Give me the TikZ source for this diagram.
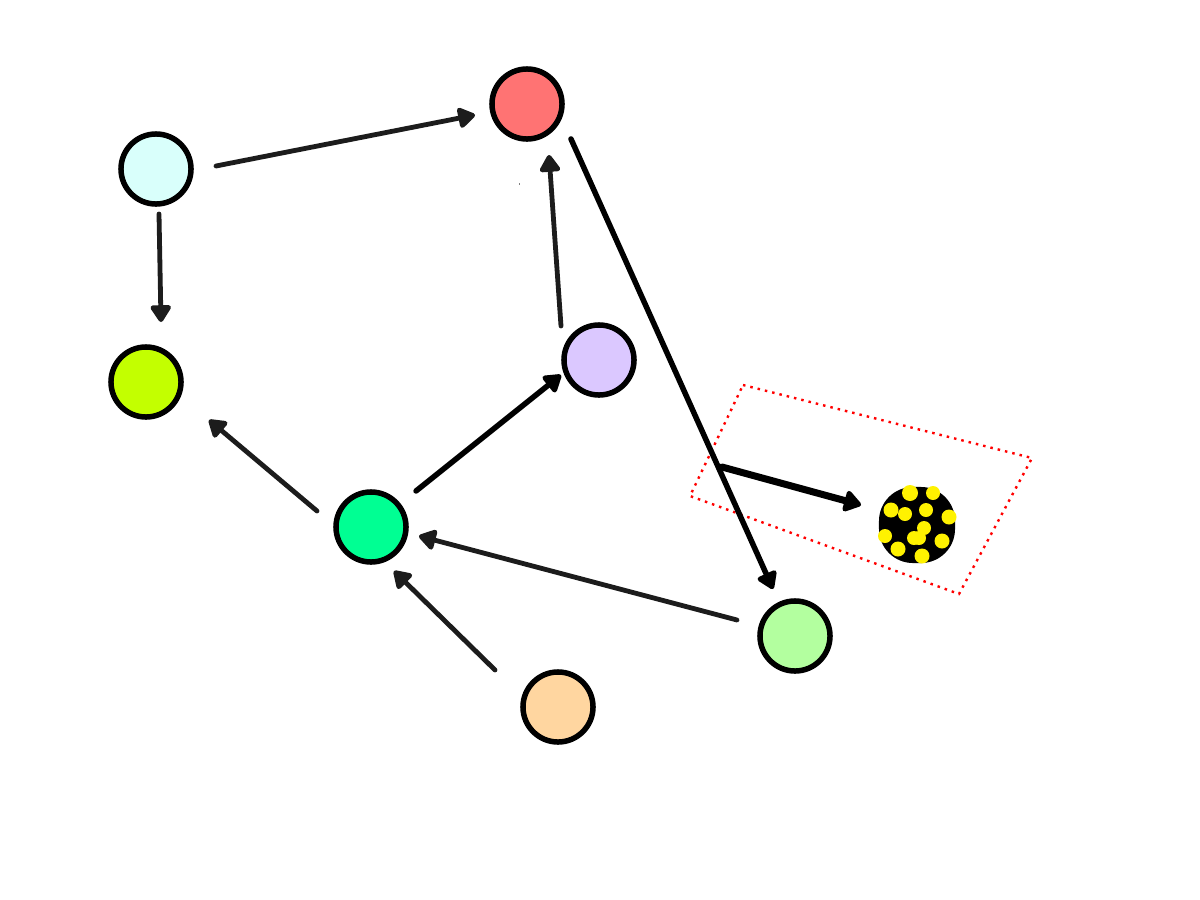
\documentclass[tikz,border=0pt]{standalone}
\usetikzlibrary{arrows.meta}
\definecolor{cCyan}{HTML}{D9FFFB}
\definecolor{cRed}{HTML}{FF7373}
\definecolor{cLime}{HTML}{C3FF00}
\definecolor{cPurple}{HTML}{DBC8FF}
\definecolor{cGreen}{HTML}{00FF93}
\definecolor{cLight}{HTML}{B3FF9F}
\definecolor{cOrange}{HTML}{FFD6A0}
\definecolor{cInk}{HTML}{1C1C1C}
\tikzset{
  x=0.01cm,y=-0.01cm,
  ball/.style={circle,draw=black,line width=0.055cm,minimum size=0.70cm,inner sep=0pt,outer sep=0pt},
  conn/.style={draw=cInk,line width=0.048cm,line cap=round,
    -{Triangle[round,length=0.19cm,width=0.23cm]}},
  connbold/.style={conn,draw=black,line width=0.055cm},
  connheavy/.style={conn,draw=black,line width=0.07cm,
    -{Triangle[round,length=0.19cm,width=0.24cm]}},
  frame/.style={draw=red,line width=0.024cm,dash pattern=on 0.025cm off 0.05cm},
  seed/.style={circle,fill=yellow,inner sep=0pt,outer sep=0pt,minimum size=0.14cm},
  blobshape/.style={fill=black,rounded corners=0.34cm,minimum size=0.76cm,inner sep=0pt,outer sep=0pt}
}
\begin{document}
\begin{tikzpicture}
\useasboundingbox (0,0) rectangle (1200,900);
\fill[white] (0,0) rectangle (1200,900);
\node[ball,fill=cCyan] (cyan) at (156,169) {};
\node[ball,fill=cRed] (red) at (527,104) {};
\node[ball,fill=cLime] (lime) at (146,382) {};
\node[ball,fill=cPurple] (purple) at (599,360) {};
\node[ball,fill=cGreen] (green) at (371,527) {};
\node[ball,fill=cLight] (light) at (795,636) {};
\node[ball,fill=cOrange] (orange) at (558,707) {};
\node[blobshape] (blob) at (917,525) {};
\foreach \n/\x/\y/\s in {a/910/493/16,b/933/493/14,c/891/510/15,d/905/514/14,e/926/510/14,f/949/517/15,g/924/528/14,h/914/538/14,i/919/538/14,j/942/541/15,k/885/536/14,l/898/549/15,m/922/556/15}
  \node[seed,minimum size=\s*0.01cm] (s\n) at (\x,\y) {};
\coordinate (fa) at (743,385);
\coordinate (fb) at (1032,458);
\coordinate (fc) at (959,594);
\coordinate (fd) at (690,496);
\draw[frame] (fa) -- (fb) -- (fc) -- (fd) -- cycle;
\fill[gray] (518.6,183) rectangle (519.4,185);
\draw[conn] ([shift={(3,45)}]cyan.center) -- ([shift={(15,-60)}]lime.center);
\draw[conn] ([shift={(60,-3)}]cyan.center) -- ([shift={(-52,11)}]red.center);
\draw[conn] ([shift={(-38,-34)}]purple.center) -- ([shift={(22,51)}]red.center);
\draw[connbold] ([shift={(45,-36)}]green.center) -- ([shift={(-38,15)}]purple.center);
\draw[conn] ([shift={(-54,-16)}]green.center) -- ([shift={(63,38)}]lime.center);
\draw[conn] ([shift={(-58,-16)}]light.center) -- ([shift={(48,9)}]green.center);
\draw[conn] ([shift={(-63,-37)}]orange.center) -- ([shift={(23,44)}]green.center);
\draw[connbold] ([shift={(44,35)}]red.center) -- ([shift={(-22,-47)}]light.center);
\coordinate (free) at (722,467);
\draw[connheavy] (free) -- ([shift={(-56,-20)}]blob.center);
\end{tikzpicture}
\end{document}
